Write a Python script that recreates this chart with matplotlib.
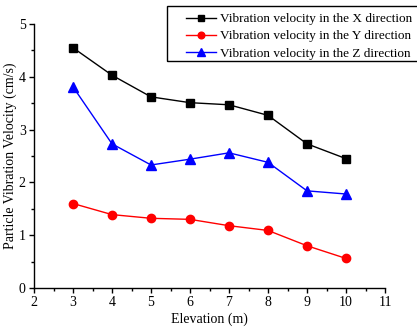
import matplotlib.pyplot as plt
from matplotlib.patches import Rectangle
from matplotlib.ticker import MultipleLocator

plt.rcParams['font.family'] = ['Liberation Serif', 'DejaVu Serif']

# elevation of each measuring point (m)
elevation = [3, 4, 5, 6, 7, 8, 9, 10]

# peak particle velocity per direction (cm/s)
vel_x = [4.55, 4.03, 3.62, 3.51, 3.47, 3.27, 2.73, 2.45]
vel_y = [1.60, 1.39, 1.32, 1.30, 1.18, 1.09, 0.80, 0.56]
vel_z = [3.81, 2.73, 2.33, 2.44, 2.56, 2.38, 1.84, 1.78]

W, H = 417, 331
fig = plt.figure(figsize=(W / 100, H / 100), dpi=100)
ax = fig.add_axes([34 / W, 1 - 288 / H, 351 / W, 264 / H])

ax.plot(elevation, vel_x, color='black', marker='s', markersize=6, lw=1,
        label='Vibration velocity in the X direction')
ax.plot(elevation, vel_y, color='red', marker='o', markersize=6, lw=1,
        label='Vibration velocity in the Y direction')
ax.plot(elevation, vel_z, color='blue', marker='^', markersize=6.5, lw=1,
        label='Vibration velocity in the Z direction')

ax.set_xlim(2, 11)
ax.set_ylim(0, 5)
ax.xaxis.set_major_locator(MultipleLocator(1))
ax.xaxis.set_minor_locator(MultipleLocator(0.5))
ax.yaxis.set_major_locator(MultipleLocator(1))
ax.yaxis.set_minor_locator(MultipleLocator(0.5))
ax.tick_params(which='major', direction='out', length=3.5, width=1,
               labelsize=10, pad=2.5)
ax.tick_params(which='minor', direction='out', length=2, width=1)

for side in ('top', 'right'):
    ax.spines[side].set_visible(False)
for side in ('left', 'bottom'):
    ax.spines[side].set_linewidth(1)

ax.set_xlabel('Elevation (m)', fontsize=10, labelpad=2)
ax.set_ylabel('Particle Vibration Velocity (cm/s)', fontsize=10, labelpad=1)

# legend box runs off the right edge of the figure
fig.patches.append(Rectangle((167 / W, 1 - 61 / H), 260 / W, 55 / H,
                             transform=fig.transFigure, fill=False,
                             edgecolor='black', linewidth=1))
fig.legend(loc='upper left', bbox_to_anchor=(186 / W, 1 - 13 / H),
           fontsize=9.5, frameon=False, borderaxespad=0, borderpad=0,
           handlelength=2.25, handletextpad=0.3, labelspacing=0.38,
           markerscale=0.8)

fig.savefig('out.png', dpi=100)
